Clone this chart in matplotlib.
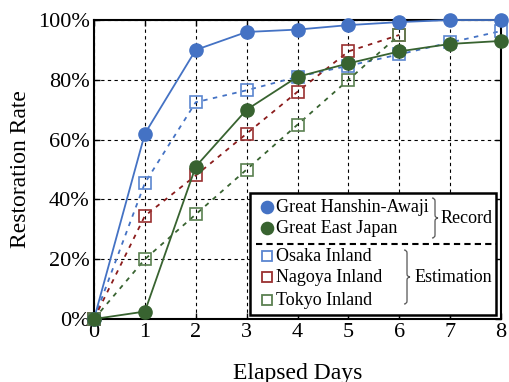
import matplotlib
matplotlib.use('Agg')
import matplotlib.pyplot as plt
import matplotlib as mpl
from matplotlib.lines import Line2D
from matplotlib.path import Path
from matplotlib.patches import PathPatch, Rectangle
from matplotlib.ticker import FuncFormatter

# style
mpl.rcParams['font.family'] = 'Liberation Serif'
mpl.rcParams['mathtext.fontset'] = 'stix'

# data (restoration rate in %)
days = [0, 1, 2, 3, 4, 5, 6, 7, 8]
hanshin = [0, 62, 90, 96, 96.8, 98.3, 99.3, 100, 100]
east_japan = [0, 2.5, 51, 70, 81, 85.5, 89.5, 92, 93]

osaka = [0, 45.5, 72.5, 76.5, 81, 84.7, 88.5, 92.5, 96.3]
nagoya_days = [0, 1, 2, 3, 4, 5, 6]
nagoya = [0, 34.5, 48, 62, 76, 89.5, 95]
tokyo_days = [0, 1, 2, 3, 4, 5, 6]
tokyo = [0, 20, 35, 50, 65, 80, 95]

blue = '#4472C4'
green = '#386330'
red = '#8B1C1C'
blue_sq = '#5B86D0'
green_sq = '#5A8050'
red_sq = '#9A3030'

fig = plt.figure(figsize=(5.09, 3.82), dpi=100)
ax = fig.add_axes([0.1847, 0.1649, 0.7996, 0.7827])

# estimations (dashed, open squares)
ax.plot(osaka, linestyle=(0, (2.5, 3)), color=blue, lw=1.3, marker='s', ms=8.5,
        mfc='none', mec=blue_sq, mew=1.2, clip_on=False, zorder=3)
ax.plot(nagoya_days, nagoya, linestyle=(0, (2.5, 3)), color=red, lw=1.3, marker='s',
        ms=8.5, mfc='none', mec=red_sq, mew=1.2, clip_on=False, zorder=3)
ax.plot(tokyo_days, tokyo, linestyle=(0, (2.5, 3)), color=green, lw=1.3, marker='s',
        ms=8.5, mfc='none', mec=green_sq, mew=1.2, clip_on=False, zorder=3)

# records (solid, filled circles)
ax.plot(days, hanshin, '-', color=blue, lw=1.3, marker='o', ms=9.5,
        clip_on=False, zorder=4)
ax.plot(days, east_japan, '-', color=green, lw=1.3, marker='o', ms=9.5,
        clip_on=False, zorder=4)

ax.set_xlim(0, 8)
ax.set_ylim(0, 100)
ax.set_xticks(range(0, 9))
ax.set_yticks(range(0, 101, 20))
ax.yaxis.set_major_formatter(FuncFormatter(lambda v, p: '%d%%' % v))
ax.grid(True, color='black', linestyle=(0, (3, 3)), lw=0.8)
ax.set_axisbelow(True)
for s in ax.spines.values():
    s.set_linewidth(1.5)
ax.tick_params(direction='in', length=4, width=1, top=True, right=True,
               labelsize=16, pad=3)
ax.set_xlabel('Elapsed Days', fontsize=17, labelpad=15)
ax.set_ylabel('Restoration Rate', fontsize=17, labelpad=5)


# legend (built by hand in axes coordinates)
def px(x, y):
    return ((x - 94) / 407.0, (319 - y) / 299.0)


def brace(x, y0, y1, w):
    # right-facing curly brace from y0 (top) to y1 (bottom), pixel coords
    ym = (y0 + y1) / 2.0
    pts = [px(x, y0), px(x + w, y0), px(x + w, y0 + 3),
           px(x + w, ym - 3), px(x + w, ym), px(x + 2 * w, ym),
           px(x + w, ym), px(x + w, ym + 3),
           px(x + w, y1 - 3), px(x + w, y1), px(x, y1)]
    codes = [Path.MOVETO, Path.CURVE3, Path.CURVE3, Path.LINETO,
             Path.CURVE3, Path.CURVE3, Path.CURVE3, Path.CURVE3,
             Path.LINETO, Path.CURVE3, Path.CURVE3]
    ax.add_patch(PathPatch(Path(pts, codes), fc='none', ec='#555555', lw=0.9,
                           transform=ax.transAxes, zorder=11, clip_on=False))


x0, y0 = px(250, 193)
x1, y1 = px(496, 315)
ax.add_patch(Rectangle((x0, y1), x1 - x0, y0 - y1, transform=ax.transAxes,
                       fc='white', ec='black', lw=1.8, zorder=10))

entries = [('Great Hanshin-Awaji', 'o', blue, blue, 207),
           ('Great East Japan', 'o', green, green, 228),
           ('Osaka Inland', 's', 'white', blue_sq, 256),
           ('Nagoya Inland', 's', 'white', red_sq, 277),
           ('Tokyo Inland', 's', 'white', green_sq, 300)]
for label, m, fc, ec, yy in entries:
    mx, my = px(266.5, yy)
    ax.add_line(Line2D([mx], [my], marker=m, ms=8.5 if m == 'o' else 7.5,
                       mfc=fc, mec=ec, mew=1.3, transform=ax.transAxes,
                       zorder=11, clip_on=False))
    tx, ty = px(276, yy)
    ax.text(tx, ty, label, fontsize=13, va='center', ha='left',
            transform=ax.transAxes, zorder=11)

sx0, sy = px(256, 244)
sx1, _ = px(496, 244)
ax.add_line(Line2D([sx0, sx1], [sy, sy], color='black', lw=1.5,
                   linestyle=(0, (3, 2)), transform=ax.transAxes, zorder=11))

brace(432, 198, 238, 3)
brace(404, 250, 304, 3)
rx, ry = px(467, 218)
ax.text(rx, ry, 'Record', fontsize=13, va='center', ha='center',
        transform=ax.transAxes, zorder=11)
ex, ey = px(453, 277)
ax.text(ex, ey, 'Estimation', fontsize=13, va='center', ha='center',
        transform=ax.transAxes, zorder=11)

fig.savefig('out.png', dpi=100)
